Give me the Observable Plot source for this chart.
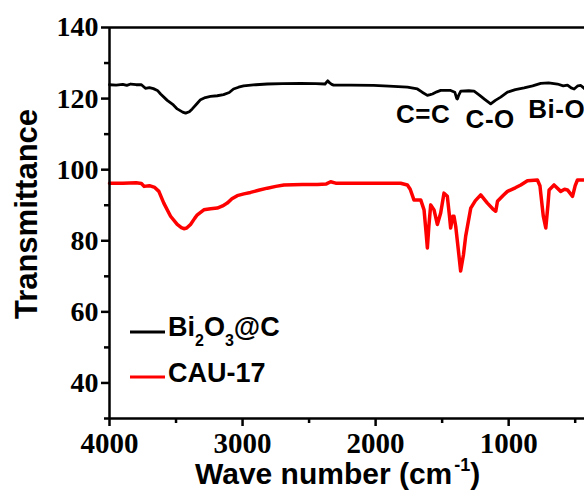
<!DOCTYPE html>
<html>
<head>
<meta charset="utf-8">
<script src="https://cdn.jsdelivr.net/npm/d3@7"></script>
<script src="https://cdn.jsdelivr.net/npm/@observablehq/plot@0.6"></script>
<style>
html, body { margin: 0; padding: 0; background: #fff; overflow: hidden; }
#chart svg { overflow: hidden; display: block; }
</style>
</head>
<body>
<div id="chart"></div>
<script>
// Bi2O3@C spectrum (wavenumber, transmittance)
const bWn = [4000,3950,3900,3870,3840,3800,3760,3730,3700,3670,3640,3616,3566,3520,3491,3450,3428,3400,3378,3340,3316,3280,3241,3190,3143,3100,3068,3030,2992,2900,2814,2700,2564,2450,2380,2360,2345,2330,2316,2188,2015,1900,1761,1686,1650,1611,1590,1573,1540,1511,1436,1405,1390,1385,1375,1360,1300,1260,1220,1180,1135,1100,1060,1009,950,884,820,759,700,633,590,558,530,508,480,458,430,408];
const bT  = [123.9,123.8,124.0,123.7,124.1,123.9,123.9,122.9,123.1,122.8,122.3,121.3,119.5,118.2,117.1,116.2,115.9,116.3,117.1,118.7,119.7,120.3,120.6,120.8,121.1,121.7,122.7,123.2,123.6,123.9,124.1,124.2,124.3,124.2,124.1,125.0,124.4,124.0,123.8,123.8,123.7,123.5,123.2,122.7,121.8,120.9,121.1,121.3,121.9,122.3,122.3,121.8,120.0,119.9,121.0,122.1,122.2,122.1,121.0,119.8,118.5,119.5,120.4,121.8,122.5,123.0,123.6,124.3,124.4,124.1,123.6,123.8,123.0,122.7,123.6,123.7,122.8,122.9];

// CAU-17 spectrum
const rWn = [4000,3900,3800,3760,3740,3700,3660,3629,3592,3541,3491,3460,3441,3420,3391,3360,3340,3291,3240,3190,3150,3115,3080,3040,2990,2940,2880,2814,2750,2689,2550,2438,2370,2338,2300,2188,2000,1812,1761,1740,1712,1661,1636,1620,1611,1600,1586,1561,1536,1511,1486,1461,1445,1436,1420,1411,1398,1380,1361,1340,1323,1285,1250,1210,1160,1120,1097,1084,1040,1009,950,909,859,784,765,759,740,721,705,696,659,609,580,558,520,500,483,433,400];
const rT  = [96.2,96.2,96.3,96.1,95.3,95.5,95.0,93.9,90.6,86.9,84.6,83.7,83.4,83.6,84.6,86.3,87.3,88.7,89.0,89.2,89.8,90.6,91.8,92.7,93.2,93.6,94.2,94.8,95.3,95.7,95.8,95.8,96.0,96.6,96.2,96.2,96.2,96.2,95.7,94.5,91.5,91.5,88.7,82.0,78.0,84.0,90.1,88.7,84.6,87.8,93.4,92.5,87.0,83.6,86.9,86.9,84.1,78.0,71.5,76.0,81.3,89.2,91.3,92.9,90.6,89.0,88.3,91.1,92.8,93.9,94.9,95.7,96.9,97.1,95.5,93.4,87.0,83.6,90.0,94.3,95.7,93.9,94.5,94.3,92.5,95.5,97.1,97.1,97.2];

const seriesNames = ["Bi2O3@C", "CAU-17"];
const seriesColors = ["#000000", "#ff0000"];

const yMajor = [40, 60, 80, 100, 120, 140];
const yMinor = [30, 50, 70, 90, 110, 130];
const xMajor = [4000, 3000, 2000, 1000];
const xMinor = [3500, 2500, 1500, 500];

// annotations: [label, wavenumber, transmittance, anchor]
const annLabels = ["C=C", "C-O", "Bi-O"];
const annWn = [1639, 1135, 849];
const annT = [113.1, 111.5, 114.3];
const annAnchor = ["middle", "middle", "start"];

const black = bWn.map((w, i) => ({w, t: bT[i]}));
const red = rWn.map((w, i) => ({w, t: rT[i]}));

const serif = "'Liberation Serif', 'Times New Roman', serif";
const sans = "'Liberation Sans', Arial, sans-serif";

const plot = Plot.plot({
  width: 584,
  height: 493,
  marginLeft: 109,
  marginTop: 27,
  marginBottom: 75,
  marginRight: 0,
  x: {domain: [4000, 400], range: [109, 588]},
  y: {domain: [30, 140], range: [418, 27]},
  style: {fontFamily: serif, fontSize: "28px", fontWeight: "bold", color: "#000", background: "#fff"},
  marks: [
    Plot.axisY({ticks: yMajor, tickSize: 8, tickPadding: 3, strokeWidth: 2.5, label: null, fontSize: 28, fontFamily: serif, fontWeight: "bold"}),
    Plot.axisY({ticks: yMinor, tickSize: 5, strokeWidth: 2.5, text: null, label: null}),
    Plot.axisX({ticks: xMajor, tickSize: 8, tickPadding: 6, strokeWidth: 2.5, label: null, tickFormat: d => String(d), fontSize: 29, fontFamily: serif, fontWeight: "bold"}),
    Plot.axisX({ticks: xMinor, tickSize: 5, strokeWidth: 2.5, text: null, label: null}),
    Plot.line(red, {x: "w", y: "t", stroke: seriesColors[1], strokeWidth: 3.5, curve: "linear"}),
    Plot.line(black, {x: "w", y: "t", stroke: seriesColors[0], strokeWidth: 2.8, curve: "linear"}),
    Plot.ruleX([4000], {strokeWidth: 2.5}),
    Plot.ruleX([400], {strokeWidth: 2.5}),
    Plot.ruleY([140], {strokeWidth: 2.5}),
    Plot.ruleY([30], {strokeWidth: 2.5})
  ]
});

document.getElementById("chart").appendChild(plot);

const svg = d3.select(plot);
const sx = plot.scale("x"), sy = plot.scale("y");

// annotations
annLabels.forEach((lab, i) => {
  svg.append("text")
    .attr("x", sx.apply(annWn[i]))
    .attr("y", sy.apply(annT[i]))
    .attr("text-anchor", annAnchor[i])
    .attr("font-family", sans).attr("font-weight", "bold").attr("font-size", 26)
    .attr("letter-spacing", 0.5)
    .attr("fill", "#000")
    .text(lab);
});

// y axis title
svg.append("text")
  .attr("transform", "translate(37,214) rotate(-90)")
  .attr("text-anchor", "middle")
  .attr("font-family", sans).attr("font-weight", "bold").attr("font-size", 31)
  .attr("fill", "#000")
  .text("Transmittance");

// x axis title
const xt = svg.append("text")
  .attr("x", 195).attr("y", 484)
  .attr("text-anchor", "start")
  .attr("font-family", sans).attr("font-weight", "bold").attr("font-size", 30)
  .attr("fill", "#000");
xt.append("tspan").text("Wave number (cm");
xt.append("tspan").attr("font-size", 18).attr("dy", -13).attr("dx", 2).text("-1");
xt.append("tspan").attr("dy", 13).text(")");

// legend
const legY = [332, 377];
legY.forEach((y, i) => {
  svg.append("line").attr("x1", 130).attr("x2", 165).attr("y1", y).attr("y2", y)
    .attr("stroke", seriesColors[i]).attr("stroke-width", 3);
});
const l1 = svg.append("text").attr("x", 168).attr("y", 336)
  .attr("text-anchor", "start")
  .attr("font-family", sans).attr("font-weight", "bold").attr("font-size", 27).attr("fill", "#000");
l1.append("tspan").text("Bi");
l1.append("tspan").attr("font-size", 16).attr("dy", 10).text("2");
l1.append("tspan").attr("dy", -10).text("O");
l1.append("tspan").attr("font-size", 16).attr("dy", 10).text("3");
l1.append("tspan").attr("dy", -10).text("@C");
svg.append("text").attr("x", 168).attr("y", 382)
  .attr("text-anchor", "start")
  .attr("font-family", sans).attr("font-weight", "bold").attr("font-size", 27).attr("fill", "#000")
  .text(seriesNames[1]);
</script>
</body>
</html>
